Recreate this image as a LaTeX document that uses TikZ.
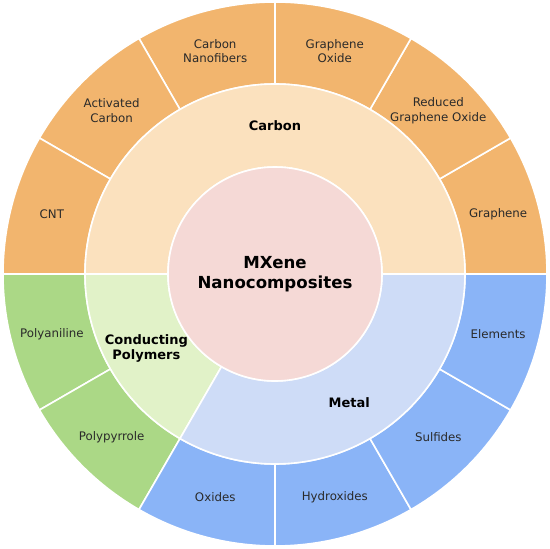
\documentclass[tikz,border=0pt]{standalone}
\usepackage{fontspec}
\setmainfont{DejaVu Sans}
\definecolor{corange}{HTML}{F2B56E}
\definecolor{clorange}{HTML}{FBE1BE}
\definecolor{cpink}{HTML}{F5D9D6}
\definecolor{cgreen}{HTML}{ABD886}
\definecolor{clgreen}{HTML}{E1F2C8}
\definecolor{cblue}{HTML}{8AB4F7}
\definecolor{clblue}{HTML}{CEDCF7}
\definecolor{ctext}{HTML}{2A2A2A}
\newcommand\mysector[5]{\fill[#5, draw=white, line width=1.6pt, line join=round] (#1:#3pt) arc[start angle=#1, end angle=#2, radius=#3pt] -- (#2:#4pt) arc[start angle=#2, end angle=#1, radius=#4pt] -- cycle;}
\begin{document}
\begin{tikzpicture}[x=1pt,y=1pt,
  outlab/.style={font=\fontsize{11.8}{14.3}\selectfont, align=center, text=ctext, inner sep=0pt},
  midlab/.style={font=\fontsize{13}{14.5}\selectfont\bfseries, align=center, text=black, inner sep=0pt},
  centlab/.style={font=\fontsize{16.6}{20}\selectfont\bfseries, align=center, text=black, inner sep=0pt}]
\useasboundingbox (-275,-275) rectangle (275,274);
% outer ring
\mysector{0}{30}{190}{272}{corange}
\mysector{30}{60}{190}{272}{corange}
\mysector{60}{90}{190}{272}{corange}
\mysector{90}{120}{190}{272}{corange}
\mysector{120}{150}{190}{272}{corange}
\mysector{150}{180}{190}{272}{corange}
\mysector{180}{210}{190}{272}{cgreen}
\mysector{210}{240}{190}{272}{cgreen}
\mysector{240}{270}{190}{272}{cblue}
\mysector{270}{300}{190}{272}{cblue}
\mysector{300}{330}{190}{272}{cblue}
\mysector{330}{360}{190}{272}{cblue}
% middle ring
\mysector{0}{180}{107}{190}{clorange}
\mysector{180}{240}{107}{190}{clgreen}
\mysector{240}{360}{107}{190}{clblue}
% center
\fill[cpink, draw=white, line width=1.6pt] (0,0) circle[radius=107pt];
% labels
\node[centlab] (center) at (0,0) {MXene\\Nanocomposites};
\node[midlab] (carbon) at (90:148.5pt) {Carbon};
\node[midlab] (polymers) at (210:148.5pt) {Conducting\\Polymers};
\node[midlab] (metal) at (300:148.5pt) {Metal};
\node[outlab] (graphene) at (15:231pt) {Graphene};
\node[outlab] (rgo) at (45:231pt) {Reduced\\Graphene Oxide};
\node[outlab] (go) at (75:231pt) {Graphene\\Oxide};
\node[outlab] (cnf) at (105:231pt) {Carbon\\Nanofibers};
\node[outlab] (ac) at (135:231pt) {Activated\\Carbon};
\node[outlab] (cnt) at (165:231pt) {CNT};
\node[outlab] (pani) at (195:231pt) {Polyaniline};
\node[outlab] (ppy) at (225:231pt) {Polypyrrole};
\node[outlab] (oxides) at (255:231pt) {Oxides};
\node[outlab] (hydroxides) at (285:231pt) {Hydroxides};
\node[outlab] (sulfides) at (315:231pt) {Sulfides};
\node[outlab] (elements) at (345:231pt) {Elements};
\end{tikzpicture}
\end{document}
